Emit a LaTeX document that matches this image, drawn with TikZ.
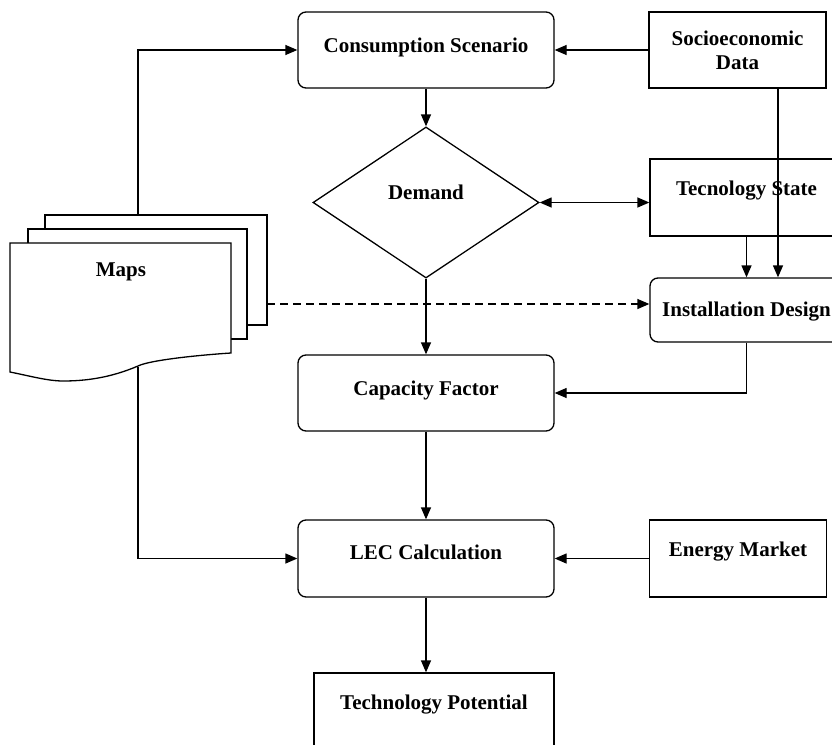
\documentclass[tikz,border=0pt]{standalone}
\usepackage{fontspec}
\setmainfont{Liberation Serif}
\usetikzlibrary{arrows.meta,shapes.geometric}

\begin{document}
\begin{tikzpicture}[x=1pt,y=-1pt,line width=1.3pt,
  font=\fontsize{21}{24}\selectfont\bfseries,
  >={Triangle[length=12pt,width=10pt]},
  sbox/.style={draw,inner sep=0pt},
  rbox/.style={draw,inner sep=0pt,rounded corners=8pt},
  lift/.style={text height=14pt,text depth=#1},
  doc/.style={draw,fill=white}]
\useasboundingbox (0,0) rectangle (832,744);
\clip (0,0) rectangle (832,744);

% process boxes
\node[rbox,minimum width=256pt,minimum height=76pt,lift=10pt] (cons) at (426,50) {Consumption Scenario};
\node[sbox,minimum width=177pt,minimum height=76pt,align=center] (socio) at (737.5,50) {Socioeconomic\\Data};
\node[draw,diamond,aspect=1.5,inner sep=0pt,minimum width=226pt,minimum height=151pt,lift=20pt] (demand) at (426,202.5) {Demand};
\node[sbox,minimum width=193pt,minimum height=77pt,lift=19pt] (tech) at (746.5,197.5) {Tecnology State};
\node[rbox,minimum width=193pt,minimum height=64pt,lift=1pt] (install) at (746.5,310) {Installation Design};
\node[rbox,minimum width=256pt,minimum height=76pt,lift=10pt] (cap) at (426,393) {Capacity Factor};
\node[rbox,minimum width=256pt,minimum height=77pt,lift=13pt] (lec) at (426,558.5) {LEC Calculation};
\node[sbox,minimum width=177pt,minimum height=77pt,lift=19pt] (energy) at (738,558.5) {Energy Market};
\node[sbox,minimum width=240pt,minimum height=100pt,lift=42pt] (pot) at (434,723) {Technology Potential};

% stacked map sheets
\draw[doc] (45,215) rectangle (267,325);
\draw[doc] (28,229) rectangle (247,339);
\draw[doc] (10,243) -- (231,243) -- (231,353)
  .. controls (200,355) and (150,360) .. (138,366)
  .. controls (110,378) and (85,381) .. (63,381)
  .. controls (48,381) and (30,376) .. (10,372) -- cycle;
\node (maps) at (121,272) {Maps};
\coordinate (mtop) at (138,215);
\coordinate (mbot) at (138,367);
\coordinate (mright) at (267,304);

% connectors
\draw[->] (socio.west) -- (cons.east);
\draw[->] (cons.south) -- (demand.north);
\draw[<->] (demand.east) -- (demand.east -| tech.west);
\draw[->] (tech.south) -- (tech.south |- install.north);
\draw[->] ([xshift=40.5pt]socio.south) -- ([xshift=40.5pt]socio.south |- install.north);
\draw[->,dash pattern=on 8pt off 5pt] (mright) -- (mright -| install.west);
\draw[->] (demand.south) -- (cap.north);
\draw[->] (install.south) |- (cap.east);
\draw[->] (cap.south) -- (lec.north);
\draw[->] (energy.west) -- (energy.west -| lec.east);
\draw[->] (lec.south) -- (lec.south |- pot.north);
\draw[->] (mtop) |- (cons.west);
\draw[->] (mbot) |- (lec.west);
\end{tikzpicture}
\end{document}
